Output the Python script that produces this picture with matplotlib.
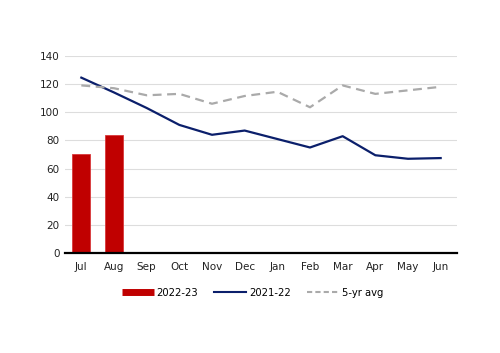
import matplotlib
matplotlib.use("Agg")
import matplotlib.pyplot as plt
from matplotlib.lines import Line2D

months = ["Jul", "Aug", "Sep", "Oct", "Nov", "Dec", "Jan", "Feb", "Mar", "Apr", "May", "Jun"]
fy2223 = [70.5, 84]
fy2122 = [124.5, 114, 103, 91, 84, 87, 81, 75, 83, 69.5, 67, 67.5]
avg5 = [119, 117, 112, 113, 106, 111.5, 114.5, 103.5, 119, 113, 115.5, 118]
yticks = [0, 20, 40, 60, 80, 100, 120, 140]

plt.rcParams['font.family'] = ['DejaVu Sans']
fig = plt.figure(figsize=(5, 3.53), dpi=100)
ax = fig.add_axes([0.13, 0.2824, 0.784, 0.5596])

x = list(range(len(months)))
ax.bar(x[:len(fy2223)], fy2223, width=0.56, color="#C00000", edgecolor="#D9383A", linewidth=0.6, zorder=3)
ax.plot(x, fy2122, color="#0B1F6B", linewidth=1.6, zorder=4)
ax.plot(x, avg5, color="#AAAAAA", linewidth=1.6, linestyle=(0, (4, 2.5)), zorder=4)

ax.set_xlim(-0.5, 11.5)
ax.set_ylim(0, 140)
ax.set_yticks(yticks)
ax.set_xticks(x)
ax.set_xticklabels(months)
ax.grid(axis='y', color="#DDDDDD", linewidth=0.8, zorder=0)
for s in ['left', 'right', 'top']:
    ax.spines[s].set_visible(False)
ax.spines['bottom'].set_color('black')
ax.spines['bottom'].set_linewidth(1.6)
ax.spines['bottom'].set_zorder(5)
ax.tick_params(axis='both', length=0, labelsize=7.5, colors='#222222', pad=4)
ax.tick_params(axis='x', pad=6)

handles = [
    Line2D([0], [0], color="#C00000", linewidth=5, solid_capstyle='butt'),
    Line2D([0], [0], color="#0B1F6B", linewidth=1.5),
    Line2D([0], [0], color="#AAAAAA", linewidth=1.5, linestyle=(0, (2.5, 1.5))),
]
fig.legend(handles, ["2022-23", "2021-22", "5-yr avg"], loc='center', bbox_to_anchor=(0.505, 0.17),
           ncol=3, frameon=False, fontsize=7.2, handlelength=3.2, handletextpad=0.3, columnspacing=1.6)

fig.savefig("out.png", dpi=100)
